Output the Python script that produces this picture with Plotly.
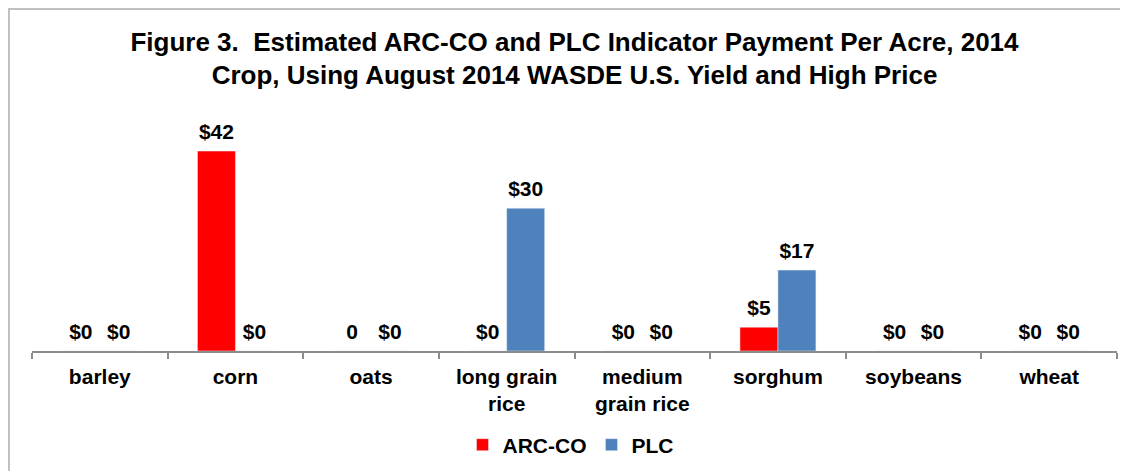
import plotly.graph_objects as go

categories = ["barley", "corn", "oats", "long grain<br>rice", "medium<br>grain rice",
              "sorghum", "soybeans", "wheat"]
arc_values = [0, 42, 0, 0, 0, 5, 0, 0]
plc_values = [0, 0, 0, 30, 0, 17, 0, 0]
arc_labels = ["$0", "$42", "0", "$0", "$0", "$5", "$0", "$0"]
plc_labels = ["$0", "$0", "$0", "$30", "$0", "$17", "$0", "$0"]

RED = "#FF0000"
BLUE = "#4F81BD"
FONT = "Liberation Sans, Arial, sans-serif"
lab_font = dict(family=FONT, size=21, color="black", weight="bold")

fig = go.Figure()
fig.add_trace(go.Bar(x=categories, y=arc_values, name="ARC-CO", marker_color=RED,
                     offsetgroup="a", hoverinfo="skip"))
fig.add_trace(go.Bar(x=categories, y=plc_values, name="PLC", marker_color=BLUE,
                     offsetgroup="b", hoverinfo="skip"))
fig.add_trace(go.Scatter(x=categories, y=arc_values, text=arc_labels, mode="markers+text",
                         textposition="top center", textfont=lab_font,
                         marker=dict(size=10, opacity=0), offsetgroup="a",
                         showlegend=False, hoverinfo="skip", cliponaxis=False))
fig.add_trace(go.Scatter(x=categories, y=plc_values, text=plc_labels, mode="markers+text",
                         textposition="top center", textfont=lab_font,
                         marker=dict(size=10, opacity=0), offsetgroup="b",
                         showlegend=False, hoverinfo="skip", cliponaxis=False))

fig.update_layout(
    width=1120, height=463,
    margin=dict(l=24, r=11, t=105, b=120, autoexpand=False),
    paper_bgcolor="white", plot_bgcolor="white",
    barmode="group", bargap=0.44, bargroupgap=0,
    scattermode="group", scattergap=0.44,
    title=dict(
        text="Figure 3.  Estimated ARC-CO and PLC Indicator Payment Per Acre, 2014<br>"
             "Crop, Using August 2014 WASDE U.S. Yield and High Price",
        x=0.5, xref="paper", xanchor="center",
        y=1 - 42.5 / 463, yref="container", yanchor="middle",
        font=dict(family=FONT, size=26, color="black", weight="bold"),
    ),
    xaxis=dict(showline=True, linecolor="#8c8c8c", linewidth=1.5,
               ticks="outside", ticklen=6, tickcolor="#8c8c8c", tickwidth=1.5,
               tickson="boundaries", showgrid=False, ticklabelstandoff=6,
               tickfont=lab_font, fixedrange=True, automargin=False),
    yaxis=dict(range=[0, 50], visible=False, fixedrange=True),
    legend=dict(orientation="h", x=0.5 - 4 / 1085, xanchor="center", y=-0.395,
                yanchor="middle", font=lab_font, traceorder="normal"),
    showlegend=True,
    shapes=[dict(type="rect", xref="paper", yref="paper",
                 x0=-0.0212, x1=1.2, y0=-1.5, y1=1.437,
                 line=dict(color="#c0c0c0", width=2), layer="below")],
)

fig.write_html("out.html")
